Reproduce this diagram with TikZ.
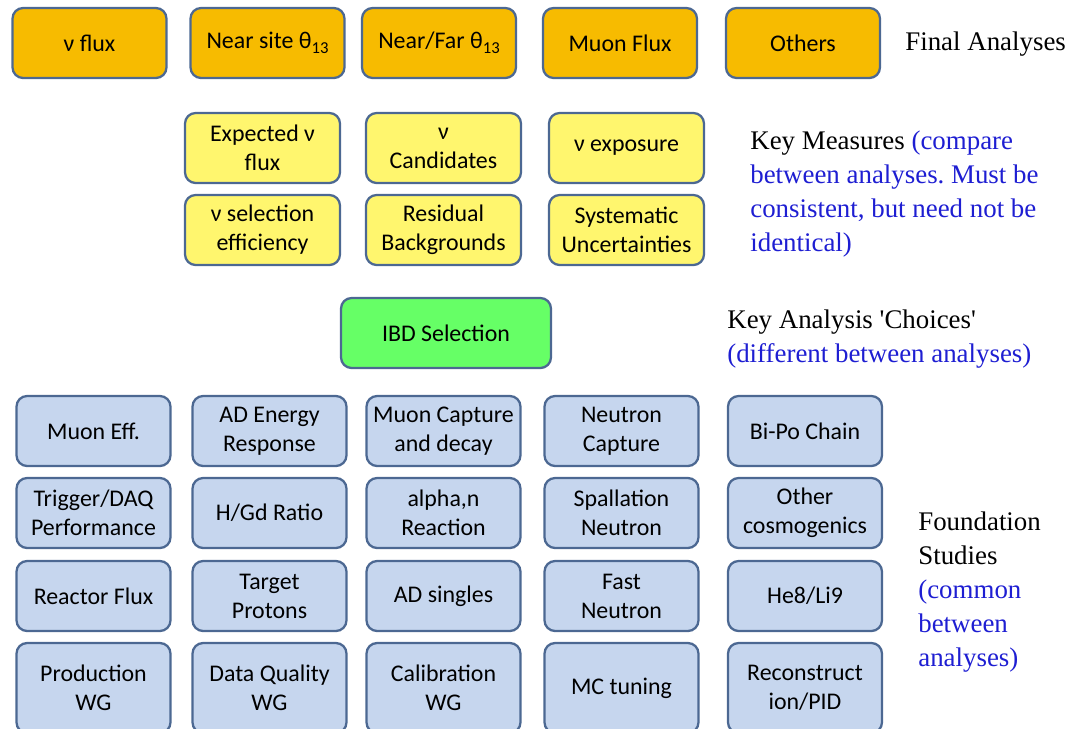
\documentclass[tikz,border=0pt]{standalone}
\usepackage{fontspec}
\setmainfont{Liberation Serif}
\newfontfamily\boxfont{Carlito}
\usepackage{tikz}
\definecolor{final}{RGB}{247,187,0}
\definecolor{measure}{RGB}{255,246,110}
\definecolor{choice}{RGB}{102,255,102}
\definecolor{study}{RGB}{198,214,238}
\definecolor{edge}{RGB}{76,104,146}
\definecolor{note}{RGB}{30,30,210}
\newcommand{\sub}[1]{\raisebox{-0.45ex}{\fontsize{9.5}{10}\selectfont #1}}
\frenchspacing

\begin{document}
\begin{tikzpicture}[x=0.02cm, y=-0.02cm,
    box/.style={draw=edge, line width=1.3pt, rounded corners=6pt,
                minimum width=3.08cm, minimum height=1.4cm, inner sep=1pt,
                font=\boxfont\fontsize{13.6}{16.6}\selectfont, align=center},
    fin/.style={box, fill=final},
    key/.style={box, fill=measure, minimum width=3.1cm},
    pick/.style={box, fill=choice, minimum width=4.2cm},
    found/.style={box, fill=study},
    label/.style={anchor=west, inner sep=0pt, align=left,
                  font=\fontsize{15.3}{19.4}\selectfont}
  ]
    \useasboundingbox (0,0) rectangle (1086,728);

    % final analyses
    \node[fin] (nflux) at (89.5,43)  {ν flux};
    \node[fin] (near)  at (267.5,43) {Near site θ\sub{13}};
    \node[fin] (nfar)  at (439,43)   {Near/Far θ\sub{13}};
    \node[fin] (muflx) at (620,43)   {Muon Flux};
    \node[fin] (other) at (803,43)   {Others};
    \node[label] (tfin) at (905,44) {Final Analyses};

    % key measures
    \node[key] (expct) at (262.5,148) {Expected ν\\flux};
    \node[key] (cand)  at (443.5,148) {ν\\Candidates};
    \node[key] (expo)  at (626.5,148) {ν exposure};
    \node[key] (sel)   at (262.5,230) {ν selection\\efficiency};
    \node[key] (resid) at (443.5,230) {Residual\\Backgrounds};
    \node[key] (syst)  at (626.5,230) {Systematic\\Uncertainties};
    \node[label] (tkey) at (750,194) {Key Measures \textcolor{note}{(compare}\\
      \textcolor{note}{between analyses. Must be}\\
      \textcolor{note}{consistent, but need not be}\\
      \textcolor{note}{identical)}};

    % analysis choice
    \node[pick] (ibd) at (446,333) {IBD Selection};
    \node[label] (tpick) at (727,339) {Key Analysis \textquotesingle Choices\textquotesingle\\
      \textcolor{note}{(different between analyses)}};

    % foundation studies
    \node[found] (mueff) at (93.5,431)  {Muon Eff.};
    \node[found] (adeng) at (269.5,431) {AD Energy\\Response};
    \node[found] (mucap) at (443.5,431) {Muon Capture\\and decay};
    \node[found] (ncap)  at (621.5,431) {Neutron\\Capture};
    \node[found] (bipo)  at (805,431)   {Bi-Po Chain};

    \node[found] (trig)  at (93.5,513)  {Trigger/DAQ\\Performance};
    \node[found] (hgd)   at (269.5,513) {H/Gd Ratio};
    \node[found] (alpha) at (443.5,513) {alpha,n\\Reaction};
    \node[found] (spall) at (621.5,513) {Spallation\\Neutron};
    \node[found] (cosmo) at (805,513)   {Other\\cosmogenics};

    \node[found] (rflux) at (93.5,596)  {Reactor Flux};
    \node[found] (tprot) at (269.5,596) {Target\\Protons};
    \node[found] (adsng) at (443.5,596) {AD singles};
    \node[found] (fastn) at (621.5,596) {Fast\\Neutron};
    \node[found] (heli)  at (805,596)   {He8/Li9};

    \node[found, minimum height=1.8cm] (prod)  at (93.5,688)  {Production\\WG};
    \node[found, minimum height=1.8cm] (dq)    at (269.5,688) {Data Quality\\WG};
    \node[found, minimum height=1.8cm] (calib) at (443.5,688) {Calibration\\WG};
    \node[found, minimum height=1.8cm] (mct)   at (621.5,688) {MC tuning};
    \node[found, minimum height=1.8cm] (reco)  at (805,688)   {Reconstruct\\ion/PID};

    \node[label] (tfound) at (918,592) {Foundation\\Studies\\
      \textcolor{note}{(common}\\ \textcolor{note}{between}\\
      \textcolor{note}{analyses)}};
  \end{tikzpicture}
\end{document}
